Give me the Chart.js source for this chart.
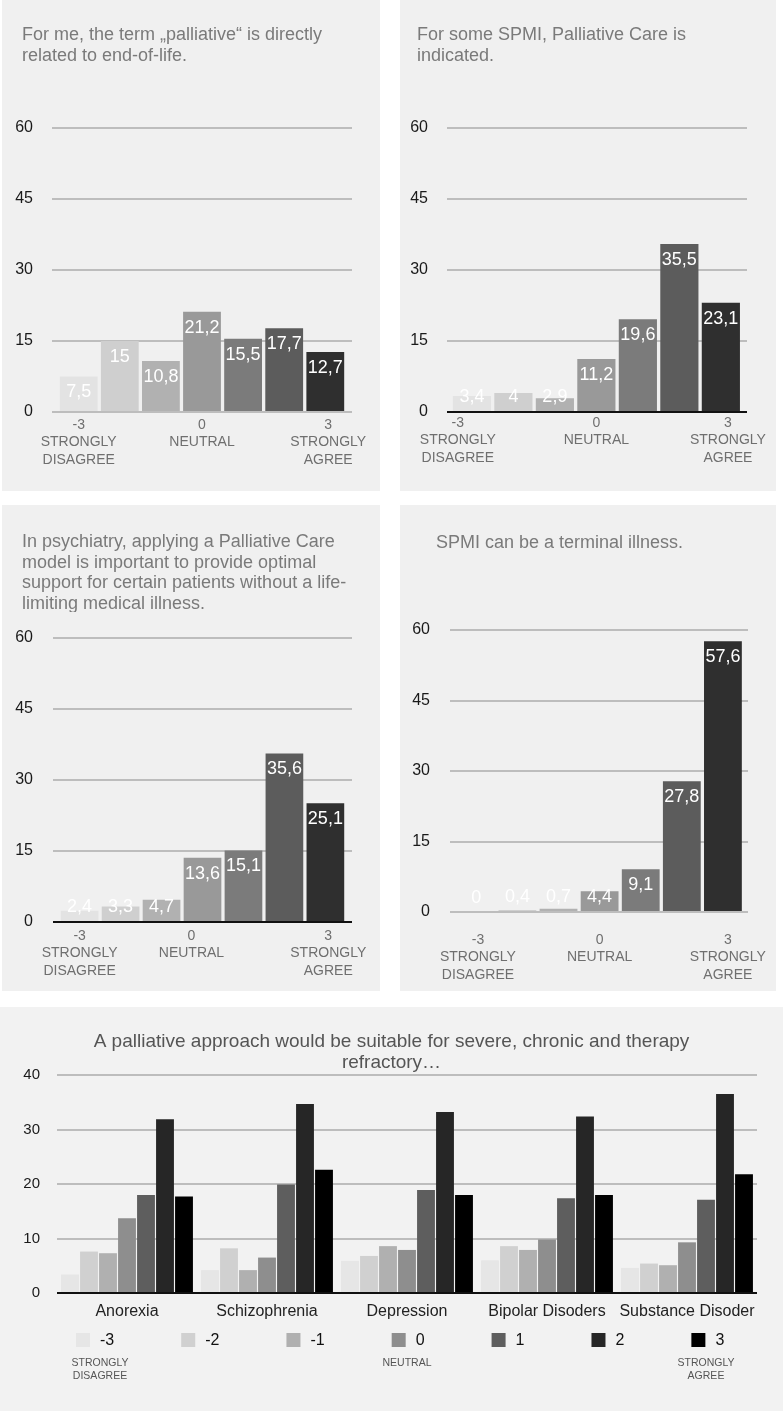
<!DOCTYPE html>
<html><head><meta charset="utf-8">
<script src="https://cdn.jsdelivr.net/npm/chart.js@4.4.1/dist/chart.umd.min.js"></script>
<style>
html,body{margin:0;padding:0;background:#fff;}
body{width:783px;height:1411px;position:relative;overflow:hidden;}
.panel{position:absolute;}
canvas{display:block;}
</style></head><body>
<div class="panel" style="left:2px;top:0;width:378px;height:491px;background:#f0f0f0"><canvas id="c1" width="378" height="491"></canvas></div>
<div class="panel" style="left:400px;top:0;width:376px;height:491px;background:#f0f0f0"><canvas id="c2" width="376" height="491"></canvas></div>
<div class="panel" style="left:2px;top:505px;width:378px;height:486px;background:#f0f0f0"><canvas id="c3" width="378" height="486"></canvas></div>
<div class="panel" style="left:400px;top:505px;width:376px;height:486px;background:#f0f0f0"><canvas id="c4" width="376" height="486"></canvas></div>
<div class="panel" style="left:0;top:1007px;width:783px;height:404px;background:#f2f2f2"><canvas id="c5" width="783" height="404"></canvas></div>
<script>
// ---------- data ----------
const likert = [-3, -2, -1, 0, 1, 2, 3];
const likertTicks = [-3, 0, 3];
const likertTickLabels = {'-3': ['-3', 'STRONGLY', 'DISAGREE'], '0': ['0', 'NEUTRAL'], '3': ['3', 'STRONGLY', 'AGREE']};
const yTicksSingle = [0, 15, 30, 45, 60];

const title1 = ['For me, the term \u201epalliative\u201c is directly', 'related to end-of-life.'];
const values1 = [7.5, 15, 10.8, 21.2, 15.5, 17.7, 12.7];

const title2 = ['For some SPMI, Palliative Care is', 'indicated.'];
const values2 = [3.4, 4, 2.9, 11.2, 19.6, 35.5, 23.1];

const title3 = ['In psychiatry, applying a Palliative Care', 'model is important to provide optimal', 'support for certain patients without a life-', 'limiting medical illness.'];
const values3 = [2.4, 3.3, 4.7, 13.6, 15.1, 35.6, 25.1];

const title4 = ['SPMI can be a terminal illness.'];
const values4 = [0, 0.4, 0.7, 4.4, 9.1, 27.8, 57.6];

const title5 = ['A palliative approach would be suitable for severe, chronic and therapy', 'refractory\u2026'];
const disorders = ['Anorexia', 'Schizophrenia', 'Depression', 'Bipolar Disoders', 'Substance Disoder'];
const levelLabels = ['-3', '-2', '-1', '0', '1', '2', '3'];
const levelNotes = {'-3': ['STRONGLY', 'DISAGREE'], '0': ['NEUTRAL'], '3': ['STRONGLY', 'AGREE']};
const yTicksMulti = [0, 10, 20, 30, 40];
const level_m3 = [3.4, 4.2, 5.9, 6.0, 4.6];
const level_m2 = [7.6, 8.2, 6.8, 8.6, 5.4];
const level_m1 = [7.3, 4.2, 8.6, 7.9, 5.1];
const level_0  = [13.7, 6.5, 7.9, 9.8, 9.3];
const level_p1 = [18.0, 19.9, 18.9, 17.4, 17.1];
const level_p2 = [31.9, 34.7, 33.2, 32.4, 36.5];
const level_p3 = [17.7, 22.6, 18.0, 18.0, 21.8];

// ---------- styles ----------
const FONT = '"Liberation Sans", Arial, Helvetica, sans-serif';
Chart.defaults.font.family = FONT;
Chart.defaults.animation = false;
const greysSingle = ['#e3e3e3', '#cfcfcf', '#b1b1b1', '#999999', '#7b7b7b', '#5c5c5c', '#2f2f2f'];
const greysMulti = ['#e6e6e6', '#d0d0d0', '#b0b0b0', '#8e8e8e', '#5e5e5e', '#262626', '#000000'];
const GRID = '#bdbdbd';

// ---------- plugins ----------
const panelText = {
  id: 'panelText',
  afterDraw(chart, args, o) {
    if (!o || !o.lines) return;
    const ctx = chart.ctx;
    ctx.save();
    if (o.clipBottom) { ctx.beginPath(); ctx.rect(0, 0, chart.width, o.clipBottom); ctx.clip(); }
    ctx.font = o.size + 'px ' + FONT;
    ctx.fillStyle = o.color;
    ctx.textAlign = o.align || 'left';
    ctx.textBaseline = 'middle';
    o.lines.forEach((l, i) => ctx.fillText(l, o.x, o.y + i * o.lineHeight));
    ctx.restore();
  }
};

const valueLabels = {
  id: 'valueLabels',
  afterDatasetsDraw(chart, args, o) {
    const ctx = chart.ctx;
    const meta = chart.getDatasetMeta(0);
    const data = chart.data.datasets[0].data;
    ctx.save();
    ctx.font = o.size + 'px ' + FONT;
    ctx.fillStyle = o.color;
    ctx.textAlign = 'center';
    ctx.textBaseline = 'middle';
    meta.data.forEach((bar, i) => {
      const p = bar.getProps(['x', 'y', 'base'], true);
      const ty = Math.min(p.y + o.inset, p.base - o.floor);
      ctx.fillText(String(data[i].y).replace('.', ','), p.x, ty);
    });
    ctx.restore();
  }
};

const likertLegend = {
  id: 'likertLegend',
  afterDraw(chart, args, o) {
    const ctx = chart.ctx;
    ctx.save();
    ctx.font = o.size + 'px ' + FONT;
    ctx.textBaseline = 'middle';
    ctx.textAlign = 'left';
    let x = o.x;
    chart.data.datasets.forEach((ds) => {
      ctx.fillStyle = ds.backgroundColor;
      ctx.fillRect(x, o.y - o.box / 2, o.box, o.box);
      ctx.fillStyle = o.color;
      ctx.fillText(ds.label, x + o.box + o.gap, o.y + 1);
      x += o.box + o.gap + ctx.measureText(ds.label).width + o.spacing;
    });
    ctx.font = o.noteSize + 'px ' + FONT;
    ctx.fillStyle = o.noteColor;
    ctx.textAlign = 'center';
    Object.keys(o.noteX).forEach((k) => {
      (levelNotes[k] || []).forEach((l, j) => ctx.fillText(l, o.noteX[k], o.noteY + j * o.noteLineHeight));
    });
    ctx.restore();
  }
};

// ---------- single-question charts ----------
function likertChart(id, titleLines, values, L) {
  return new Chart(document.getElementById(id), {
    type: 'bar',
    data: {
      datasets: [{
        data: likert.map((v, i) => ({x: v, y: values[i]})),
        backgroundColor: greysSingle,
        borderWidth: 0,
        barPercentage: 0.92,
        categoryPercentage: 1
      }]
    },
    options: {
      responsive: false,
      devicePixelRatio: 1,
      layout: {padding: {left: L.padLeft, right: L.padRight, top: L.top, bottom: 0}},
      plugins: {
        legend: {display: false},
        tooltip: {enabled: false},
        panelText: {lines: titleLines, x: L.titleX, y: L.titleY, lineHeight: 20.7, size: 18, color: '#7a7a7a', clipBottom: L.clip},
        valueLabels: {size: 18, color: '#ffffff', inset: 16, floor: 14}
      },
      scales: {
        x: {
          type: 'linear', min: L.min, max: L.max, offset: false,
          // label anchors: the Likert ticks, nudged to where the original placed its captions
          afterBuildTicks: (s) => { s.ticks = likertTicks.map((v, i) => ({value: v + L.nudge[i]})); },
          afterFit: (s) => { s.height = L.xHeight; s.paddingLeft = 0; s.paddingRight = 0; },
          grid: {display: false, drawTicks: false, offset: false},
          border: {display: false},
          ticks: {
            padding: L.xPad, maxRotation: 0, autoSkip: false, color: '#6f6f6f',
            font: {size: 14, lineHeight: 1.25},
            callback: (v, i) => likertTickLabels[String(likertTicks[i])] || ''
          }
        },
        y: {
          min: 0, max: 60,
          afterBuildTicks: (s) => { s.ticks = yTicksSingle.map(v => ({value: v})); },
          afterFit: (s) => { s.width = 40; },
          grid: {drawTicks: false, lineWidth: 2, color: (c) => (c.tick && c.tick.value === 0 ? L.base : GRID)},
          border: {display: false},
          ticks: {padding: L.yPad, color: '#1a1a1a', font: {size: 16}}
        }
      }
    },
    plugins: [panelText, valueLabels]
  });
}

likertChart('c1', title1, values1, {padLeft: 10, padRight: 28, top: 128, xHeight: 79, xPad: 4, yPad: 19, min: -3.65, max: 3.65, titleX: 20, titleY: 35, base: GRID, nudge: [0, 0, 0.07]});
likertChart('c2', title2, values2, {padLeft: 7, padRight: 29, top: 128, xHeight: 79, xPad: 2, yPad: 19, min: -3.60, max: 3.63, titleX: 17, titleY: 35, base: '#111111', nudge: [-0.34, 0, 0.17]});
likertChart('c3', title3, values3, {padLeft: 11, padRight: 28, top: 133, xHeight: 69, xPad: 5, yPad: 20, min: -3.65, max: 3.65, titleX: 20, titleY: 37, base: '#111111', clip: 107, nudge: [0, -0.27, 0.07]});
likertChart('c4', title4, values4, {padLeft: 10, padRight: 28, top: 125, xHeight: 79, xPad: 19, yPad: 20, min: -3.64, max: 3.61, titleX: 36, titleY: 38, base: GRID, nudge: [0.04, 0, 0.12]});

// ---------- grouped chart ----------
const levelSeries = [level_m3, level_m2, level_m1, level_0, level_p1, level_p2, level_p3];
new Chart(document.getElementById('c5'), {
  type: 'bar',
  data: {
    labels: disorders,
    datasets: levelSeries.map((s, i) => ({
      label: levelLabels[i],
      data: s,
      backgroundColor: greysMulti[i],
      borderWidth: 0,
      barPercentage: 0.94,
      categoryPercentage: 0.95
    }))
  },
  options: {
    responsive: false,
    devicePixelRatio: 1,
    layout: {padding: {left: 17, right: 26, top: 68, bottom: 0}},
    plugins: {
      legend: {display: false},
      tooltip: {enabled: false},
      panelText: {lines: title5, x: 391.5, y: 35, lineHeight: 21, size: 19, color: '#555555', align: 'center'},
      likertLegend: {x: 76, y: 333, box: 14, gap: 10, spacing: 67, size: 16, color: '#111111',
        noteX: {'-3': 100, '0': 407, '3': 706}, noteY: 356, noteLineHeight: 13, noteSize: 10.5, noteColor: '#555555'}
    },
    scales: {
      x: {
        afterFit: (s) => { s.height = 118; },
        grid: {display: false, drawTicks: false},
        border: {display: false},
        ticks: {padding: 9, color: '#222222', font: {size: 16}, maxRotation: 0, autoSkip: false}
      },
      y: {
        min: 0, max: 40,
        afterBuildTicks: (s) => { s.ticks = yTicksMulti.map(v => ({value: v})); },
        afterFit: (s) => { s.width = 40; },
        grid: {drawTicks: false, lineWidth: 2, color: (c) => (c.tick && c.tick.value === 0 ? '#111111' : GRID)},
        border: {display: false},
        ticks: {padding: 17, color: '#1a1a1a', font: {size: 15}}
      }
    }
  },
  plugins: [panelText, likertLegend]
});
</script>
</body></html>
